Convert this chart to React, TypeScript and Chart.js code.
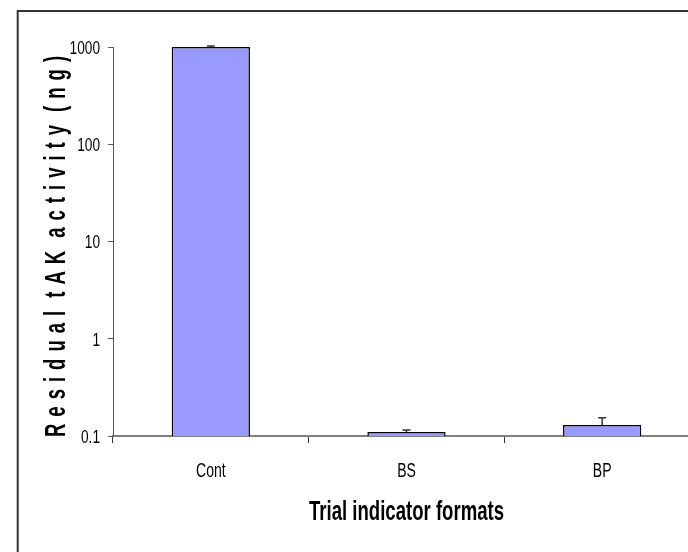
import React, { useEffect, useRef } from "react";
import { Chart, registerables } from "chart.js";

Chart.register(...registerables);

// Residual tAK activity per trial indicator format (log scale)
const categories = ["Cont", "BS", "BP"];
const meanActivity = [1000, 0.11, 0.13];
const upperError = [1025, 0.115, 0.154];
const yTickValues = [0.1, 1, 10, 100, 1000];
const yTickLabels = ["0.1", "1", "10", "100", "1000"];
const yTitle = "R e s i d u a l  t A K  a c t i v i t y  ( n g )";
const xTitle = "Trial indicator formats";

const SANS = '"Liberation Sans", Arial, sans-serif';
const NARROW_SCALE = 0.72;

const CANVAS_W = 720;
const CANVAS_H = 552;

// Draws text horizontally condensed (narrow face look)
function drawNarrowText(
  ctx: CanvasRenderingContext2D,
  text: string,
  x: number,
  y: number,
  align: "left" | "center" | "right",
  sx: number
) {
  ctx.save();
  ctx.translate(x, y);
  ctx.scale(sx, 1);
  ctx.textAlign = align;
  ctx.textBaseline = "alphabetic";
  ctx.fillText(text, 0, 0);
  ctx.restore();
}

// White background plus the chart-area border (left and top edges in view)
const framePlugin = {
  id: "frame",
  beforeDraw(chart: any) {
    const { ctx } = chart;
    ctx.save();
    ctx.fillStyle = "#ffffff";
    ctx.fillRect(0, 0, chart.width, chart.height);
    ctx.strokeStyle = "#333333";
    ctx.lineWidth = 2;
    ctx.strokeRect(17.7, 11, CANVAS_W, CANVAS_H + 20);
    ctx.restore();
  },
};

// Upper error whiskers with a short cap
const errorBarPlugin = {
  id: "errorBars",
  afterDatasetsDraw(chart: any) {
    const { ctx } = chart;
    const yScale = chart.scales.y;
    const meta = chart.getDatasetMeta(0);
    ctx.save();
    ctx.strokeStyle = "#333333";
    ctx.lineWidth = 1.5;
    meta.data.forEach((bar: any, i: number) => {
      const yTop = yScale.getPixelForValue(upperError[i]);
      const yBar = bar.y;
      ctx.beginPath();
      ctx.moveTo(bar.x, yBar);
      ctx.lineTo(bar.x, yTop);
      ctx.moveTo(bar.x - 4, yTop);
      ctx.lineTo(bar.x + 4, yTop);
      ctx.stroke();
    });
    ctx.restore();
  },
};

// Tick labels and axis titles in a condensed sans face
const labelPlugin = {
  id: "axisLabels",
  afterDraw(chart: any) {
    const { ctx, chartArea, scales } = chart;
    const x = scales.x;
    const y = scales.y;
    ctx.save();
    ctx.fillStyle = "#000000";

    // y tick labels
    ctx.font = `19px ${SANS}`;
    y.ticks.forEach((t: any) => {
      const idx = yTickValues.indexOf(t.value);
      if (idx < 0) return;
      const py = y.getPixelForValue(t.value);
      drawNarrowText(ctx, yTickLabels[idx], 100, py + 6.8, "right", NARROW_SCALE);
    });

    // x category labels
    ctx.font = `19.5px ${SANS}`;
    categories.forEach((c, i) => {
      const px = x.getPixelForValue(i);
      drawNarrowText(ctx, c, px, chartArea.bottom + 40.5, "center", NARROW_SCALE);
    });

    // x title
    ctx.font = `bold 27px ${SANS}`;
    const xw = ctx.measureText(xTitle).width;
    drawNarrowText(
      ctx,
      xTitle,
      (chartArea.left + chartArea.right) / 2,
      chartArea.bottom + 84,
      "center",
      195 / xw
    );

    // y title, rotated
    ctx.font = `bold 30px ${SANS}`;
    (ctx as any).letterSpacing = "1.5px";
    const yw = ctx.measureText(yTitle).width;
    ctx.translate(65, (chartArea.top + chartArea.bottom) / 2 + 4.5);
    ctx.rotate(-Math.PI / 2);
    ctx.scale(382 / yw, 1);
    ctx.textAlign = "center";
    ctx.textBaseline = "alphabetic";
    ctx.fillText(yTitle, 0, 0);
    ctx.restore();
  },
};

export default function App() {
  const canvasRef = useRef<HTMLCanvasElement | null>(null);

  useEffect(() => {
    if (!canvasRef.current) return;
    const chart = new Chart(canvasRef.current, {
      type: "bar",
      data: {
        labels: categories,
        datasets: [
          {
            data: meanActivity,
            backgroundColor: "#9999ff",
            borderColor: "#000000",
            borderWidth: 1.5,
            barPercentage: 0.4,
            categoryPercentage: 1,
          },
        ],
      },
      options: {
        responsive: false,
        animation: false,
        devicePixelRatio: 1,
        layout: { padding: { left: 0, top: 47, right: 20, bottom: 0 } },
        plugins: {
          legend: { display: false },
          tooltip: { enabled: false },
        },
        scales: {
          x: {
            type: "category",
            offset: true,
            afterFit(scale: any) {
              scale.height = CANVAS_H - 436;
            },
            border: { display: true, color: "#808080", width: 2 },
            grid: {
              offset: true,
              drawOnChartArea: false,
              drawTicks: true,
              tickLength: 7,
              color: "#333333",
              lineWidth: 1,
            },
            ticks: { display: false },
          },
          y: {
            type: "logarithmic",
            min: 0.1,
            max: 1000,
            afterFit(scale: any) {
              scale.width = 113;
            },
            afterBuildTicks(scale: any) {
              scale.ticks = yTickValues.map((v) => ({ value: v }));
            },
            border: { display: true, color: "#555555", width: 1 },
            grid: {
              drawOnChartArea: false,
              drawTicks: true,
              tickLength: 5,
              color: "#555555",
            },
            ticks: { display: false },
          },
        },
      },
      plugins: [framePlugin, errorBarPlugin, labelPlugin],
    });
    return () => chart.destroy();
  }, []);

  return (
    <div
      style={{
        position: "absolute",
        left: 0,
        top: 0,
        width: 688,
        height: 552,
        overflow: "hidden",
        background: "#ffffff",
      }}
    >
      <canvas ref={canvasRef} width={CANVAS_W} height={CANVAS_H} style={{ display: "block" }} />
    </div>
  );
}
